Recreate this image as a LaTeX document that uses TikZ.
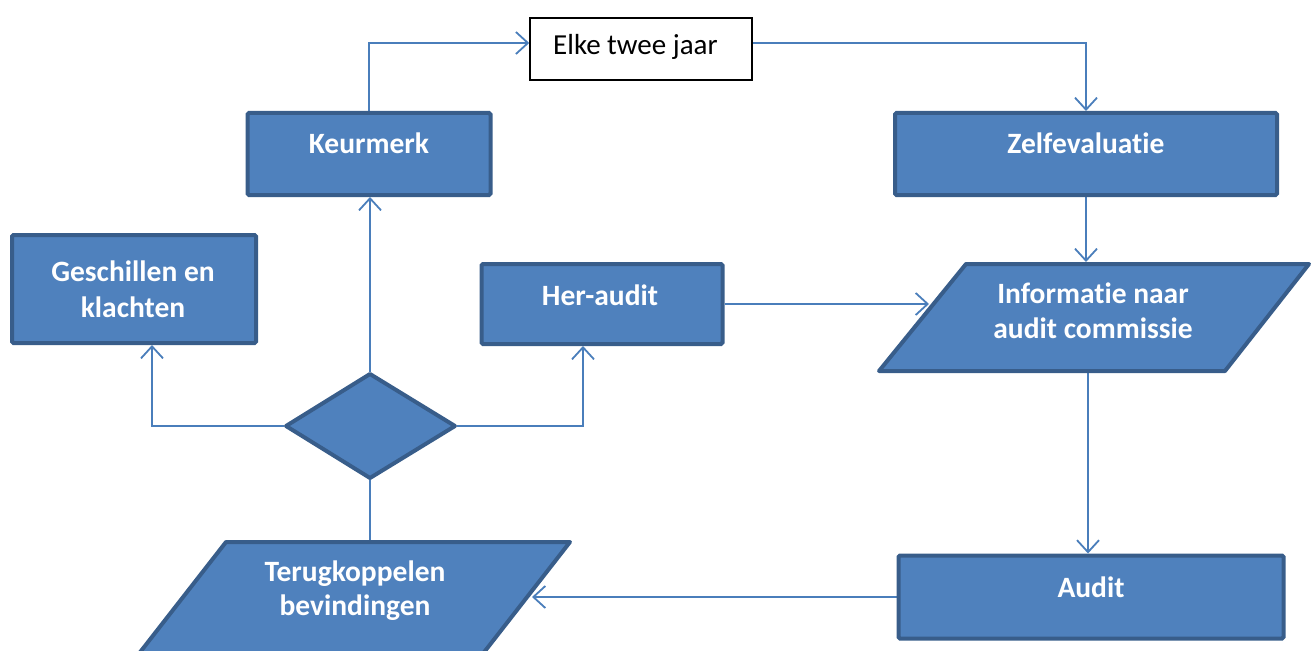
\documentclass[tikz,border=0pt]{standalone}
\usepackage{fontspec}
\setmainfont{Carlito}[Ligatures=NoCommon]
\usetikzlibrary{arrows.meta}
\definecolor{fillblue}{HTML}{4F81BD}
\definecolor{edgeblue}{HTML}{385D8A}
\definecolor{lineblue}{HTML}{4A7EBB}
\pgfdeclarelayer{bg}
\pgfsetlayers{bg,main}
\tikzset{
  box/.style={draw=edgeblue, fill=fillblue, line width=4pt, rounded corners=1.5pt, inner sep=0pt},
  shapeblue/.style={draw=edgeblue, fill=fillblue, line width=4pt, line join=round},
  lbl/.style={text=white, font=\bfseries\fontsize{29.5}{35}\selectfont, anchor=base, inner sep=0pt},
  conn/.style={draw=lineblue, line width=1.8pt, -{Straight Barb[length=12pt,width=22pt]}},
}
\begin{document}
\begin{tikzpicture}[x=1pt,y=-1pt]
\useasboundingbox (0,0) rectangle (1316,650);
% boxes
\node[draw=black, fill=white, line width=1.5pt, minimum width=222pt, minimum height=62pt, inner sep=0pt] (elke) at (641,49) {};
\node[box, minimum width=243pt, minimum height=82pt] (keur) at (369,154) {};
\node[box, minimum width=382pt, minimum height=82pt] (zelf) at (1086,154) {};
\node[box, minimum width=244pt, minimum height=108pt] (gesch) at (134,289) {};
\node[box, minimum width=241pt, minimum height=80pt] (her) at (602,304) {};
\node[box, minimum width=385pt, minimum height=83pt] (audit) at (1091,597) {};
% parallelograms and diamond
\draw[shapeblue] (966,264) -- (1309,264) -- (1225,371) -- (879,371) -- cycle;
\draw[shapeblue] (226,542) -- (570,542) -- (478,660) -- (134,660) -- cycle;
\draw[shapeblue] (286,426) -- (370,374) -- (455,426) -- (370,478) -- cycle;
% connection points
\coordinate (infoTop) at (1086,262);
\coordinate (infoL) at (929,304);
\coordinate (infoB) at (1088,355);
\coordinate (terTop) at (370,540);
\coordinate (terR) at (532,597);
\coordinate (diaT) at (370,372);
\coordinate (diaL) at (284,426);
\coordinate (diaR) at (457,426);
\coordinate (diaIn) at (370,457);
\coordinate (gesB) at (152,345);
\coordinate (herB) at (583,346);
% labels
\node[anchor=base west, inner sep=0pt, font=\fontsize{29}{34}\selectfont] (elkeT) at (553,55) {Elke twee jaar};
\node[lbl] (keurT) at (369,153) {Keurmerk};
\node[lbl] (zelfT) at (1086,153) {Zelfevaluatie};
\node[lbl] (geschT1) at (133,281) {Geschillen en};
\node[lbl] (geschT2) at (133,317) {klachten};
\node[lbl] (herT) at (600,305) {Her-audit};
\node[lbl] (infoT1) at (1093,303) {Informatie naar};
\node[lbl] (infoT2) at (1093,338) {audit commissie};
\node[lbl] (terT1) at (355,581) {Terugkoppelen};
\node[lbl] (terT2) at (355,615) {bevindingen};
\node[lbl] (auditT) at (1091,597) {Audit};
% connectors
\begin{pgfonlayer}{bg}
\draw[conn] (keur.north) |- ([yshift=6pt]elke.west);
\draw[conn] ([yshift=6pt]elke.east) -| (zelf.north);
\draw[conn] (zelf.south) -- (infoTop);
\draw[conn] (her.east) -- (infoL);
\draw[conn] (infoB) -- (infoB |- audit.north);
\draw[conn] (audit.west) -- (terR);
\draw[conn] (terTop) -- (diaIn);
\draw[conn] (diaT) -- (diaT |- keur.south);
\draw[conn] (diaL) -| (gesB);
\draw[conn] (diaR) -| (herB);
\end{pgfonlayer}
\end{tikzpicture}
\end{document}
